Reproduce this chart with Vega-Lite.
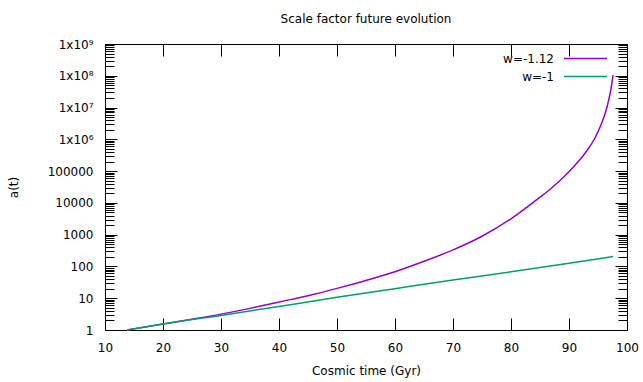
{
  "$schema": "https://vega.github.io/schema/vega-lite/v6.json",
  "width": 522,
  "height": 286,
  "autosize": "none",
  "padding": {"left": 105, "top": 44, "right": 16, "bottom": 52},
  "background": "white",
  "title": {"text": "Scale factor future evolution", "font": "DejaVu Sans", "fontSize": 12, "fontWeight": "normal", "color": "black", "offset": 12, "anchor": "middle"},
  "config": {
    "view": {"stroke": "black", "strokeWidth": 1},
    "axis": {"labelFont": "DejaVu Sans", "labelFontSize": 12, "labelColor": "black", "titleFont": "DejaVu Sans", "titleFontSize": 12, "titleFontWeight": "normal", "titleColor": "black", "domainColor": "black", "grid": false, "labelFlush": false, "labelOverlap": false},
    "legend": {"labelFont": "DejaVu Sans", "labelFontSize": 12, "labelColor": "black"}
  },
  "data": {"values": [
    {"series": "w=-1.12", "t": 13.8, "a": 1},
    {"series": "w=-1.12", "t": 20, "a": 1.55},
    {"series": "w=-1.12", "t": 25, "a": 2.19},
    {"series": "w=-1.12", "t": 30, "a": 3.16},
    {"series": "w=-1.12", "t": 35, "a": 4.79},
    {"series": "w=-1.12", "t": 40, "a": 7.59},
    {"series": "w=-1.12", "t": 45, "a": 12.0},
    {"series": "w=-1.12", "t": 50, "a": 20.4},
    {"series": "w=-1.12", "t": 55, "a": 36.3},
    {"series": "w=-1.12", "t": 60, "a": 68},
    {"series": "w=-1.12", "t": 65, "a": 145},
    {"series": "w=-1.12", "t": 70, "a": 331},
    {"series": "w=-1.12", "t": 75, "a": 891},
    {"series": "w=-1.12", "t": 80, "a": 3162},
    {"series": "w=-1.12", "t": 85, "a": 15100},
    {"series": "w=-1.12", "t": 87, "a": 29500},
    {"series": "w=-1.12", "t": 89, "a": 63100},
    {"series": "w=-1.12", "t": 91, "a": 151000},
    {"series": "w=-1.12", "t": 92.5, "a": 316000},
    {"series": "w=-1.12", "t": 93.5, "a": 562000},
    {"series": "w=-1.12", "t": 94.5, "a": 1120000},
    {"series": "w=-1.12", "t": 95.5, "a": 2820000},
    {"series": "w=-1.12", "t": 96.2, "a": 6310000},
    {"series": "w=-1.12", "t": 96.8, "a": 15800000},
    {"series": "w=-1.12", "t": 97.2, "a": 35500000},
    {"series": "w=-1.12", "t": 97.6, "a": 105000000},
    {"series": "w=-1", "t": 13.8, "a": 1},
    {"series": "w=-1", "t": 20, "a": 1.55},
    {"series": "w=-1", "t": 30, "a": 2.88},
    {"series": "w=-1", "t": 40, "a": 5.5},
    {"series": "w=-1", "t": 50, "a": 10.7},
    {"series": "w=-1", "t": 60, "a": 20.0},
    {"series": "w=-1", "t": 70, "a": 37.2},
    {"series": "w=-1", "t": 80, "a": 67.6},
    {"series": "w=-1", "t": 90, "a": 126},
    {"series": "w=-1", "t": 97.6, "a": 204}
  ]},
  "layer": [
    {
      "mark": {"type": "line", "strokeWidth": 1.5, "interpolate": "monotone"},
      "encoding": {
        "x": {"field": "t", "type": "quantitative", "scale": {"domain": [10, 100], "nice": false, "zero": false},
              "axis": {"orient": "bottom", "title": "Cosmic time (Gyr)", "values": [10,20,30,40,50,60,70,80,90,100], "ticks": true, "tickSize": -12, "tickColor": "black", "tickWidth": 1, "labelPadding": 24, "titlePadding": 12}},
        "y": {"field": "a", "type": "quantitative", "scale": {"type": "log", "domain": [1, 1000000000], "nice": false},
              "axis": {"orient": "left", "title": "a(t)", "titlePadding": 27,
                "values": [1,2,3,4,5,6,7,8,9,10,20,30,40,50,60,70,80,90,100,200,300,400,500,600,700,800,900,1000,2000,3000,4000,5000,6000,7000,8000,9000,10000,20000,30000,40000,50000,60000,70000,80000,90000,100000,200000,300000,400000,500000,600000,700000,800000,900000,1000000,2000000,3000000,4000000,5000000,6000000,7000000,8000000,9000000,10000000,20000000,30000000,40000000,50000000,60000000,70000000,80000000,90000000,100000000,200000000,300000000,400000000,500000000,600000000,700000000,800000000,900000000,1000000000],
                "labelExpr": "abs(log(datum.value)/LN10 - round(log(datum.value)/LN10)) > 0.000001 ? '' : (datum.value >= 1000000 ? '1x10' + ['⁶','⁷','⁸','⁹'][round(log(datum.value)/LN10)-6] : format(datum.value, 'd'))",
                "ticks": true,
                "tickColor": "black",
                "tickWidth": 1,
                "tickSize": {"condition": {"test": "abs(log(datum.value)/LN10 - round(log(datum.value)/LN10)) < 0.000001", "value": -12}, "value": -9},
                "labelPadding": 24}},
        "color": {"field": "series", "type": "nominal", "scale": {"domain": ["w=-1.12", "w=-1"], "range": ["#9400D3", "#009E73"]},
                  "legend": {"title": null, "orient": "none", "legendX": 474, "legendY": 8, "symbolType": "M-4,0H4", "symbolSize": 116, "symbolStrokeWidth": 1.5, "labelAlign": "right", "labelOffset": -38, "rowPadding": 5, "padding": 0}}
      }
    },
    {
      "mark": {"type": "line", "opacity": 0},
      "encoding": {
        "x": {"field": "t", "type": "quantitative", "axis": {"orient": "top", "title": null, "labels": false, "values": [10,20,30,40,50,60,70,80,90,100], "ticks": true, "tickSize": -12, "tickColor": "black", "tickWidth": 1}},
        "y": {"field": "a", "type": "quantitative",
              "axis": {"orient": "right", "title": null, "labels": false, "ticks": true,
                "values": [1,2,3,4,5,6,7,8,9,10,20,30,40,50,60,70,80,90,100,200,300,400,500,600,700,800,900,1000,2000,3000,4000,5000,6000,7000,8000,9000,10000,20000,30000,40000,50000,60000,70000,80000,90000,100000,200000,300000,400000,500000,600000,700000,800000,900000,1000000,2000000,3000000,4000000,5000000,6000000,7000000,8000000,9000000,10000000,20000000,30000000,40000000,50000000,60000000,70000000,80000000,90000000,100000000,200000000,300000000,400000000,500000000,600000000,700000000,800000000,900000000,1000000000],
                "tickColor": "black", "tickWidth": 1,
                "tickSize": {"condition": {"test": "abs(log(datum.value)/LN10 - round(log(datum.value)/LN10)) < 0.000001", "value": -12}, "value": -9}}},
        "detail": {"field": "series"}
      }
    }
  ],
  "resolve": {"axis": {"x": "independent", "y": "independent"}}
}
